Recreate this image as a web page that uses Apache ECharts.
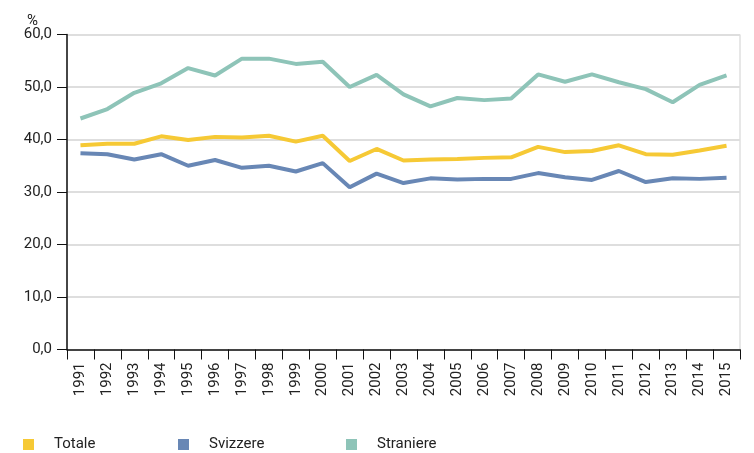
<!DOCTYPE html>
<html>
<head>
<meta charset="utf-8">
<script src="https://cdn.jsdelivr.net/npm/echarts@6/dist/echarts.min.js"></script>
<style>
  html, body { margin: 0; padding: 0; background: #fff; }
  #chart { width: 754px; height: 453px; }
</style>
</head>
<body>
<div id="chart"></div>
<script>
var years = ['1991','1992','1993','1994','1995','1996','1997','1998','1999','2000',
             '2001','2002','2003','2004','2005','2006','2007','2008','2009','2010',
             '2011','2012','2013','2014','2015'];
var totale = [38.9, 39.2, 39.2, 40.6, 39.9, 40.5, 40.4, 40.7, 39.6, 40.7,
              35.9, 38.2, 36.0, 36.2, 36.3, 36.5, 36.6, 38.6, 37.6, 37.8,
              38.9, 37.2, 37.1, 37.9, 38.8];
var svizzere = [37.4, 37.2, 36.2, 37.2, 35.0, 36.1, 34.6, 35.0, 33.9, 35.5,
                30.9, 33.5, 31.7, 32.6, 32.4, 32.5, 32.5, 33.6, 32.8, 32.3,
                34.0, 31.9, 32.6, 32.5, 32.7];
var straniere = [44.0, 45.8, 48.9, 50.7, 53.6, 52.2, 55.4, 55.4, 54.4, 54.8,
                 50.0, 52.3, 48.6, 46.3, 47.9, 47.5, 47.8, 52.4, 51.0, 52.4,
                 50.9, 49.6, 47.1, 50.4, 52.2];
var seriesNames = ['Totale', 'Svizzere', 'Straniere'];
var colors = ['#f6c935', '#6887b5', '#8ec4b8'];

var font = 'Roboto, "DejaVu Sans Condensed", sans-serif';
var myChart = echarts.init(document.getElementById('chart'));

// one legend per item so the spacing matches the original
var legendLeft = [18, 173, 341];
var legends = seriesNames.map(function (name, i) {
    return {
        data: [name],
        left: legendLeft[i],
        top: 432,
        icon: 'rect',
        itemWidth: 11,
        itemHeight: 11,
        itemGap: 0,
        selectedMode: false,
        textStyle: {
            fontFamily: font,
            fontSize: 15,
            color: '#222',
            padding: [0, 0, 0, 15]
        }
    };
});

var option = {
    animation: false,
    color: colors,
    title: {
        text: '%',
        left: 22,
        top: 9,
        textStyle: { fontFamily: font, fontSize: 15, fontWeight: 'normal', color: '#222' }
    },
    legend: legends,
    grid: {
        left: 67,
        right: 14,
        top: 34.5,
        bottom: 103.5,
        show: true,
        borderColor: '#cfcfcf',
        borderWidth: 1
    },
    xAxis: {
        type: 'category',
        data: years,
        boundaryGap: true,
        axisLine: { lineStyle: { color: '#111', width: 1.5 } },
        axisTick: { show: true, length: 10, lineStyle: { color: '#111' } },
        axisLabel: {
            rotate: 90,
            margin: 13,
            interval: 0,
            fontFamily: font,
            fontSize: 15,
            color: '#222'
        },
        splitLine: { show: false }
    },
    yAxis: {
        type: 'value',
        min: 0,
        max: 60,
        interval: 10,
        axisLine: { show: true, lineStyle: { color: '#111', width: 1.5 } },
        axisTick: { show: true, length: 10, lineStyle: { color: '#111' } },
        axisLabel: {
            margin: 15,
            fontFamily: font,
            fontSize: 15,
            color: '#222',
            formatter: function (v) { return v.toFixed(1).replace('.', ','); }
        },
        splitLine: { lineStyle: { color: '#dedede', width: 2 } }
    },
    series: [
        { name: seriesNames[0], type: 'line', data: totale, symbol: 'none', lineStyle: { width: 4 } },
        { name: seriesNames[1], type: 'line', data: svizzere, symbol: 'none', lineStyle: { width: 4 } },
        { name: seriesNames[2], type: 'line', data: straniere, symbol: 'none', lineStyle: { width: 4 } }
    ]
};

myChart.setOption(option);
</script>
</body>
</html>
